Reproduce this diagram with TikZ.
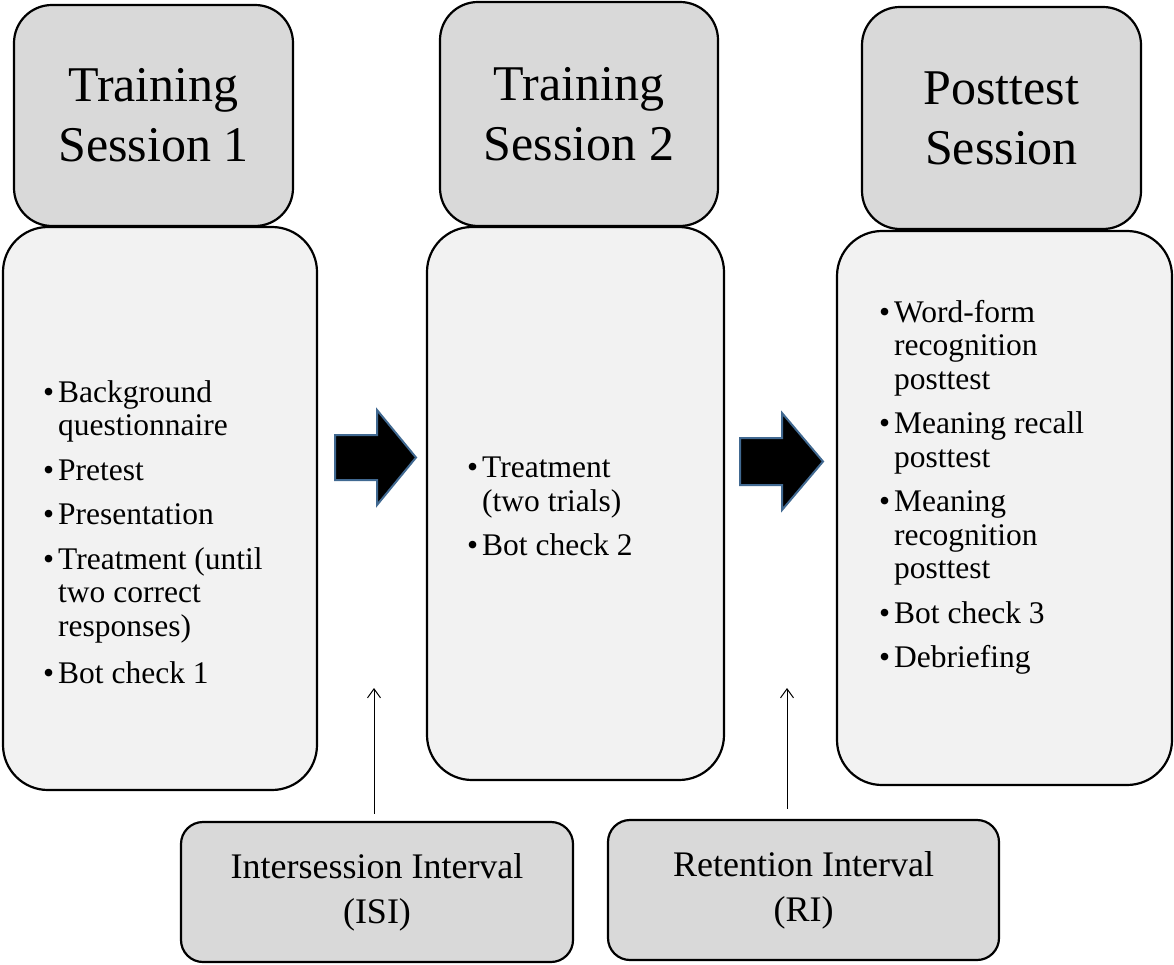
\documentclass[tikz,border=0pt]{standalone}
\usepackage{fontspec}
\setmainfont{Liberation Serif}
\usepackage{enumitem}
\usetikzlibrary{positioning,arrows.meta}
\definecolor{headGray}{RGB}{217,217,217}
\definecolor{bodyGray}{RGB}{242,242,242}
\definecolor{edgeBlue}{RGB}{65,105,145}
\tikzset{
  head/.style={draw,line width=2.2pt,fill=headGray,rounded corners=38pt,align=center,
    font=\fontsize{50}{60}\selectfont,inner sep=0pt},
  body/.style={draw,line width=2.2pt,fill=bodyGray,rounded corners=45pt,inner sep=0pt},
  interval/.style={draw,line width=2.2pt,fill=headGray,rounded corners=22pt,align=center,
    font=\fontsize{36}{45}\selectfont,inner sep=0pt},
  bigarrow/.style={fill=black,draw=edgeBlue,line width=2pt,line join=miter},
  thin/.style={-{Straight Barb[length=9pt,width=13pt]},line width=1pt},
}
\newcommand{\itemtext}[2]{\begin{minipage}[t]{#1pt}\fontsize{31.5}{33.5}\selectfont
  \raggedright\hyphenpenalty=10000
  \begin{itemize}[leftmargin=20pt,labelsep=4pt,itemsep=11pt,topsep=0pt,parsep=0pt,label=\textbullet]
  #2\end{itemize}\end{minipage}}
\begin{document}
\begin{tikzpicture}[x=1pt,y=-1pt]
\path[use as bounding box] (0,0) rectangle (1174,965);
% sessions
\node[head,minimum width=279pt,minimum height=221pt] (ts1) at (153.5,115.5) {Training\\Session 1};
\node[head,minimum width=278pt,minimum height=224pt] (ts2) at (579,114) {Training\\Session 2};
\node[head,minimum width=279pt,minimum height=222pt] (post) at (1001.5,118) {Posttest\\Session};
\node[body,minimum width=314pt,minimum height=563pt] (ts1body) at (160,508.5) {};
\node[body,minimum width=297pt,minimum height=553pt] (ts2body) at (575.5,503.5) {};
\node[body,minimum width=335pt,minimum height=554pt] (postbody) at (1004.5,508) {};
% lists
\node[anchor=north west,inner sep=0pt] (list1) at (38,380) {\itemtext{245}{
  \item Background questionnaire
  \item Pretest
  \item Presentation
  \item Treatment (until two correct responses)
  \item \vspace{3pt}Bot check 1}};
\node[anchor=north west,inner sep=0pt] (list2) at (462,457) {\itemtext{190}{
  \item Treatment (two trials)
  \item Bot check 2}};
\node[anchor=north west,inner sep=0pt] (list3) at (874,300) {\itemtext{235}{
  \item Word-form recognition posttest
  \item Meaning recall posttest
  \item Meaning recognition posttest
  \item Bot check 3
  \item Debriefing}};
% block arrows
\draw[bigarrow] (335,435) -- (377,435) -- (377,410) -- (416,457.5) -- (377,505) -- (377,480) -- (335,480) -- cycle;
\draw[bigarrow] (740,438) -- (782,438) -- (782,413) -- (823,461.5) -- (782,510) -- (782,485) -- (740,485) -- cycle;
% intervals
\node[interval,minimum width=392pt,minimum height=140pt] (isi) at (377,892) {Intersession Interval\\(ISI)};
\node[interval,minimum width=391pt,minimum height=140pt] (ri) at (803.5,890) {Retention Interval\\(RI)};
\coordinate (isitop) at (374,688);
\coordinate (ritop) at (787,688);
\draw[thin] (isi.north -| isitop) ++(0,-7) -- (isitop);
\draw[thin] (ri.north -| ritop) ++(0,-10) -- (ritop);
\end{tikzpicture}
\end{document}
